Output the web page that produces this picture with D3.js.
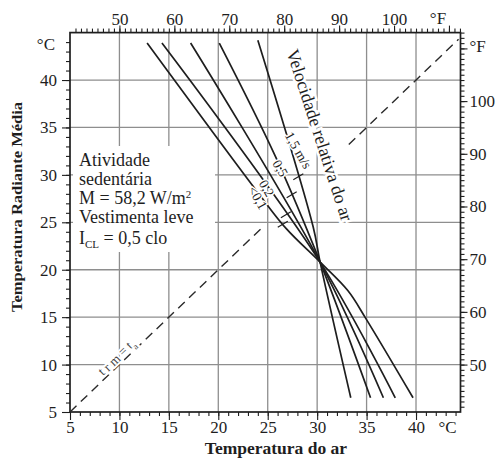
<!DOCTYPE html>
<html>
<head>
<meta charset="utf-8">
<script src="https://cdn.jsdelivr.net/npm/d3@7"></script>
<style>
  body { margin: 0; background: #fff; }
  svg { display: block; font-family: "Liberation Serif", "Times New Roman", serif; }
</style>
</head>
<body>
<svg id="chart" width="498" height="460"></svg>
<script>
// Tick labels
const celsiusLabels = [5, 10, 15, 20, 25, 30, 35, 40];
const fahrenheitLabels = [50, 60, 70, 80, 90, 100];
const gridCelsius = [10, 15, 20, 25, 30, 35, 40];

// Comfort lines: [air temperature °C, mean radiant temperature °C]
const comfortLine1 = [[24.0, 44.2], [29.6, 24.5], [30.3, 20.8], [33.4, 6.5]];
const comfortLine2 = [[20.1, 43.9], [25.8, 31.9], [30.3, 20.8], [35.4, 6.5]];
const comfortLine3 = [[17.2, 43.9], [30.3, 20.8], [36.7, 6.5]];
const comfortLine4 = [[14.3, 43.9], [30.3, 20.8], [37.9, 6.5]];
const comfortLine5 = [[12.8, 43.9], [24.1, 28.0], [26.9, 24.3], [30.3, 20.8], [33.1, 17.8], [34.9, 14.9], [39.7, 6.5]];
const comfortLines = [comfortLine1, comfortLine2, comfortLine3, comfortLine4, comfortLine5];

// Relative air velocity labels (null = line without a label)
const velocityLabels = ["1,5 m/s", "0,5", null, "0,2", "<0,1"];

// Conditions of the diagram
const infoLines = ["Atividade", "sedentária", "M = 58,2 W/m²", "Vestimenta leve", "I_CL = 0,5 clo"];

const svg = d3.select("#chart");
const ink = "#1e1e1e";

const x = d3.scaleLinear().domain([5, 44.5]).range([70, 460.5]);
const y = d3.scaleLinear().domain([5, 45]).range([412, 32.6]);
const c2f = c => c * 9 / 5 + 32;
const xF = d3.scaleLinear().domain(x.domain().map(c2f)).range(x.range());
const yF = d3.scaleLinear().domain(y.domain().map(c2f)).range(y.range());

const [x0, x1] = x.range();
const [y0, y1] = y.range();

// Grid
const grid = svg.append("g").attr("stroke", "#8e8e8e").attr("stroke-width", 1.3);
grid.selectAll("line.v").data(gridCelsius).join("line").attr("class", "v")
  .attr("x1", d => x(d)).attr("x2", d => x(d)).attr("y1", y0).attr("y2", y1);
grid.selectAll("line.h").data(gridCelsius).join("line").attr("class", "h")
  .attr("y1", d => y(d)).attr("y2", d => y(d)).attr("x1", x0).attr("x2", x1);

// Axes
function styleAxis(g) {
  g.select(".domain").remove();
  g.selectAll("line").attr("stroke", ink).attr("stroke-width", 1.1);
  g.selectAll("text").attr("fill", ink).attr("font-size", 17)
    .attr("font-family", '"Liberation Serif", serif');
}
function axisPair(axisFn, scale, pos, minorVals, majorVals, labels, minorLen, majorLen, pad) {
  const gm = svg.append("g").attr("transform", pos)
    .call(axisFn(scale).tickValues(minorVals).tickSize(minorLen).tickFormat(""));
  styleAxis(gm);
  const gM = svg.append("g").attr("transform", pos)
    .call(axisFn(scale).tickValues(majorVals).tickSize(majorLen).tickPadding(pad)
      .tickFormat(d => labels.includes(d) ? d : ""));
  styleAxis(gM);
  return gM;
}
axisPair(d3.axisBottom, x, `translate(0,${y0})`, d3.range(6, 45), celsiusLabels, celsiusLabels, 4, 8, 1);
axisPair(d3.axisLeft, y, `translate(${x0},0)`, d3.range(6, 45), celsiusLabels, celsiusLabels, 4, 8, 5);
axisPair(d3.axisTop, xF, `translate(0,${y1})`, d3.range(42, 113), [50, 60, 70, 80, 90, 100, 110], fahrenheitLabels, 4, 7, 1);
axisPair(d3.axisRight, yF, `translate(${x1},0)`, d3.range(42, 114), [50, 60, 70, 80, 90, 100, 110], fahrenheitLabels, 4, 7, 2);

// Frame
svg.append("rect").attr("x", x0).attr("y", y1).attr("width", x1 - x0).attr("height", y0 - y1)
  .attr("fill", "none").attr("stroke", ink).attr("stroke-width", 1.7);

// Unit labels
const unit = svg.append("g").attr("fill", ink).attr("font-size", 17);
unit.append("text").attr("x", x0 - 15).attr("y", y(43.8)).attr("dy", "0.35em").attr("text-anchor", "end").text("°C");
unit.append("text").attr("x", x1 + 9).attr("y", yF(110.5)).attr("dy", "0.35em").text("°F");
unit.append("text").attr("x", xF(108)).attr("y", y1 - 9).attr("text-anchor", "middle").text("°F");
unit.append("text").attr("x", x(43.2)).attr("y", y0 + 21).attr("text-anchor", "middle").text("°C");

// Axis titles
svg.append("text").attr("x", 276).attr("y", 454).attr("text-anchor", "middle")
  .attr("font-weight", "bold").attr("font-size", 17.5).attr("fill", ink).text("Temperatura do ar");
svg.append("text").attr("transform", "translate(22,207) rotate(-90)").attr("text-anchor", "middle")
  .attr("font-weight", "bold").attr("font-size", 15.5).attr("fill", ink)
  .attr("textLength", 210).attr("lengthAdjust", "spacingAndGlyphs")
  .text("Temperatura Radiante Média");

// Line of equal air and mean radiant temperature (interrupted through the comfort bundle)
const dashSegments = [[5, 24.6], [33.2, 44.3]];
svg.append("g").selectAll("line").data(dashSegments).join("line")
  .attr("x1", d => x(d[0])).attr("y1", d => y(d[0])).attr("x2", d => x(d[1])).attr("y2", d => y(d[1]))
  .attr("stroke", "#2a2a2a").attr("stroke-width", 1.4).attr("stroke-dasharray", "9,6");
const eqAngle = Math.atan2(y(10) - y(5), x(10) - x(5)) * 180 / Math.PI;
const eqLabel = svg.append("text")
  .attr("transform", `translate(${x(9.2) + 8},${y(9.2) - 12}) rotate(${eqAngle})`)
  .attr("text-anchor", "middle").attr("font-size", 13).attr("fill", "#444")
  .attr("stroke", "#fff").attr("stroke-width", 4).attr("paint-order", "stroke");
eqLabel.append("tspan").text("t");
eqLabel.append("tspan").attr("dy", 1).text(" r m");
eqLabel.append("tspan").attr("dy", -1).text(" = t");
eqLabel.append("tspan").attr("dy", 4).attr("font-size", 9).text("a");

// Conditions block
svg.append("rect").attr("x", 73).attr("y", 146).attr("width", 142).attr("height", 106).attr("fill", "#fff");
const info = svg.append("g").attr("fill", ink).attr("font-size", 18);
const infoBase = [166, 185, 204, 223, 244];
infoLines.forEach((s, i) => {
  const t = info.append("text").attr("x", 79).attr("y", infoBase[i]);
  if (s.startsWith("M =")) {
    t.append("tspan").text("M = 58,2 W/m");
    t.append("tspan").attr("dy", -6).attr("font-size", 11).text("2");
  } else if (s.startsWith("I_CL")) {
    t.append("tspan").text("I");
    t.append("tspan").attr("dy", 4).attr("font-size", 11).text("CL");
    t.append("tspan").attr("dy", -4).text(" = 0,5 clo");
  } else {
    t.text(s);
  }
});

// Comfort lines
const lineGen = d3.line().x(d => x(d[0])).y(d => y(d[1])).curve(d3.curveCatmullRom.alpha(0.5));
svg.append("g").selectAll("path").data(comfortLines).join("path")
  .attr("d", lineGen).attr("fill", "none").attr("stroke", ink).attr("stroke-width", 1.7);

// Velocity labels placed along their lines
function pointAt(pts, tr) {
  for (let i = 0; i < pts.length - 1; i++) {
    const [a0, r0] = pts[i], [a1, r1] = pts[i + 1];
    if (tr <= r0 && tr >= r1) {
      const t = (r0 - tr) / (r0 - r1);
      return [a0 + t * (a1 - a0), tr];
    }
  }
  return pts[0];
}
const labelAt = [32.6, 30.7, null, 28.6, 27.6];
const labelShift = [8, 0, 0, 0, -4];
const vel = svg.append("g");
velocityLabels.forEach((lab, i) => {
  if (!lab) return;
  const p = pointAt(comfortLines[i], labelAt[i]);
  const px = x(p[0]) + labelShift[i], py = y(p[1]);
  vel.append("text").attr("transform", `translate(${px},${py}) rotate(60)`)
    .attr("text-anchor", "middle").attr("dy", "0.35em").attr("font-size", 13.5).attr("fill", ink)
    .attr("stroke", "#fff").attr("stroke-width", 3).attr("paint-order", "stroke").text(lab);
  // small cross mark on the line below the label
  const q = pointAt(comfortLines[i], labelAt[i] - 2.8);
  const qx = x(q[0]), qy = y(q[1]);
  vel.append("line").attr("x1", qx - 5).attr("y1", qy + 3).attr("x2", qx + 5).attr("y2", qy - 3)
    .attr("stroke", ink).attr("stroke-width", 1.2);
});

// Axis of the velocity family
svg.append("text").attr("transform", "translate(320,135) rotate(72)")
  .attr("text-anchor", "middle").attr("dy", "0.35em").attr("font-size", 18).attr("fill", ink)
  .attr("stroke", "#fff").attr("stroke-width", 5).attr("paint-order", "stroke")
  .text("Velocidade relativa do ar");
</script>
</body>
</html>
